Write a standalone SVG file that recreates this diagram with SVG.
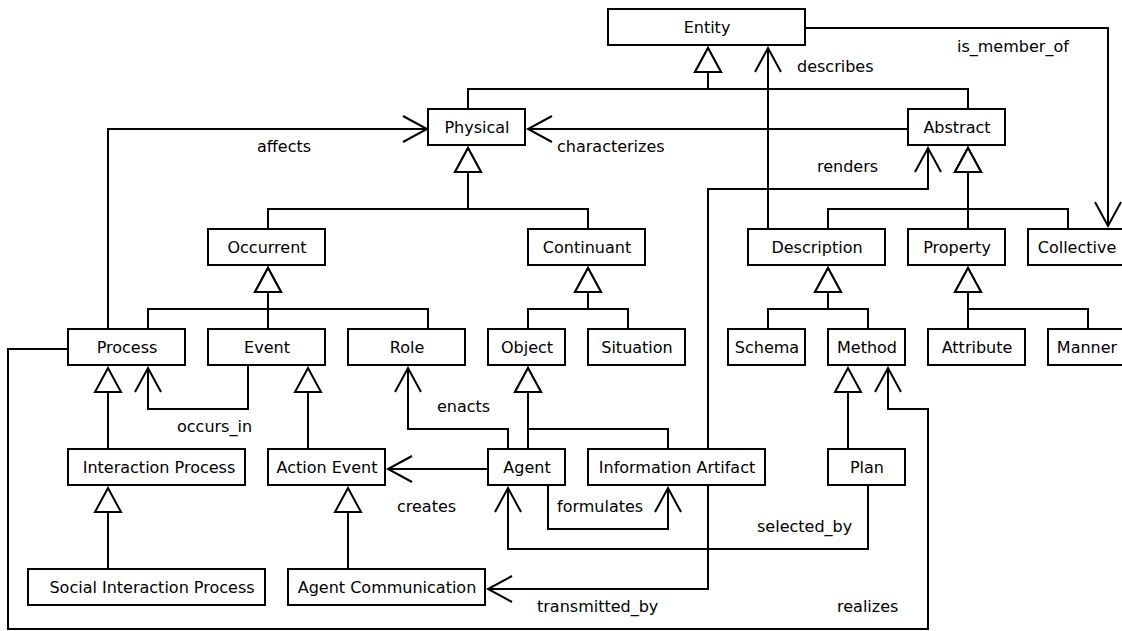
<svg xmlns="http://www.w3.org/2000/svg" width="1122" height="631" viewBox="0 0 1122 631">
<style>
.box rect{fill:#fff;stroke:#000;stroke-width:2}
text{font-family:"DejaVu Sans","Liberation Sans",sans-serif;font-size:16px;fill:#000}
.box text{text-anchor:middle}
.gen path,.assoc path{fill:none;stroke:#000;stroke-width:2}
.gen path{marker-end:url(#tri)}
.assoc path{marker-end:url(#open)}
</style>
<defs>
<marker id="tri" markerUnits="userSpaceOnUse" orient="auto" refX="0" refY="0" markerWidth="30" markerHeight="30" overflow="visible">
<path d="M0 0 L-24 -13 L-24 13 Z" fill="#fff" stroke="#000" stroke-width="2"/>
</marker>
<marker id="open" markerUnits="userSpaceOnUse" orient="auto" refX="0" refY="0" markerWidth="30" markerHeight="30" overflow="visible">
<path d="M-24 -13 L0 0 L-24 13" fill="none" stroke="#000" stroke-width="2"/>
</marker>
</defs>
<rect width="1122" height="631" fill="#fff"/>
<g id="connectors">
<g class="gen">
<path d="M468 109 V89 H708 V48"/>
<path d="M968 109 V89 H708 V48"/>
<path d="M268 229 V209 H468 V148"/>
<path d="M588 229 V209 H468 V148"/>
<path d="M828 229 V209 H968 V148"/>
<path d="M968 229 V148"/>
<path d="M1068 229 V209 H968 V148"/>
<path d="M148 329 V309 H268 V268"/>
<path d="M268 329 V268"/>
<path d="M428 329 V309 H268 V268"/>
<path d="M528 329 V309 H588 V268"/>
<path d="M628 329 V309 H588 V268"/>
<path d="M768 329 V309 H828 V268"/>
<path d="M868 329 V309 H828 V268"/>
<path d="M968 329 V268"/>
<path d="M1088 329 V309 H968 V268"/>
<path d="M108 449 V368"/>
<path d="M308 449 V368"/>
<path d="M528 449 V368"/>
<path d="M668 449 V429 H528 V368"/>
<path d="M848 449 V368"/>
<path d="M108 569 V488"/>
<path d="M348 569 V488"/>
</g>
<g class="assoc">
<path d="M108 329 V129 H427"/>
<path d="M908 129 H528"/>
<path d="M768 229 V48"/>
<path d="M805 28 H1108 V226"/>
<path d="M708 449 V189 H928 V148"/>
<path d="M248 365 V409 H148 V368"/>
<path d="M508 449 V429 H408 V368"/>
<path d="M488 469 H388"/>
<path d="M548 485 V529 H668 V488"/>
<path d="M868 485 V549 H508 V488"/>
<path d="M708 485 V589 H488"/>
<path d="M68 349 H8 V629 H928 V409 H888 V368"/>
</g>
<g id="labels">
<text x="257" y="152">affects</text>
<text x="557" y="152">characterizes</text>
<text x="797" y="72">describes</text>
<text x="957" y="52">is_member_of</text>
<text x="817" y="172">renders</text>
<text x="177" y="432">occurs_in</text>
<text x="437" y="412">enacts</text>
<text x="397" y="512">creates</text>
<text x="557" y="512">formulates</text>
<text x="757" y="532">selected_by</text>
<text x="537" y="612">transmitted_by</text>
<text x="837" y="612">realizes</text>
</g>
</g>
<g id="entity" class="box"><rect x="608" y="9" width="197" height="36"/><text x="707" y="33">Entity</text></g>
<g id="physical" class="box"><rect x="428" y="109" width="97" height="36"/><text x="477" y="133">Physical</text></g>
<g id="abstract" class="box"><rect x="908" y="109" width="97" height="36"/><text x="957" y="133">Abstract</text></g>
<g id="occurrent" class="box"><rect x="208" y="229" width="117" height="36"/><text x="267" y="253">Occurrent</text></g>
<g id="continuant" class="box"><rect x="528" y="229" width="117" height="36"/><text x="587" y="253">Continuant</text></g>
<g id="description" class="box"><rect x="748" y="229" width="137" height="36"/><text x="817" y="253">Description</text></g>
<g id="property" class="box"><rect x="908" y="229" width="97" height="36"/><text x="957" y="253">Property</text></g>
<g id="collective" class="box"><rect x="1028" y="229" width="97" height="36"/><text x="1077" y="253">Collective</text></g>
<g id="process" class="box"><rect x="68" y="329" width="117" height="36"/><text x="127" y="353">Process</text></g>
<g id="event" class="box"><rect x="208" y="329" width="117" height="36"/><text x="267" y="353">Event</text></g>
<g id="role" class="box"><rect x="348" y="329" width="117" height="36"/><text x="407" y="353">Role</text></g>
<g id="object" class="box"><rect x="488" y="329" width="77" height="36"/><text x="527" y="353">Object</text></g>
<g id="situation" class="box"><rect x="588" y="329" width="97" height="36"/><text x="637" y="353">Situation</text></g>
<g id="schema" class="box"><rect x="728" y="329" width="77" height="36"/><text x="767" y="353">Schema</text></g>
<g id="method" class="box"><rect x="828" y="329" width="77" height="36"/><text x="867" y="353">Method</text></g>
<g id="attribute" class="box"><rect x="928" y="329" width="97" height="36"/><text x="977" y="353">Attribute</text></g>
<g id="manner" class="box"><rect x="1048" y="329" width="77" height="36"/><text x="1087" y="353">Manner</text></g>
<g id="interaction-process" class="box"><rect x="68" y="449" width="177" height="36"/><text x="159" y="473">Interaction Process</text></g>
<g id="action-event" class="box"><rect x="268" y="449" width="117" height="36"/><text x="327" y="473">Action Event</text></g>
<g id="agent" class="box"><rect x="488" y="449" width="77" height="36"/><text x="527" y="473">Agent</text></g>
<g id="information-artifact" class="box"><rect x="588" y="449" width="177" height="36"/><text x="677" y="473">Information Artifact</text></g>
<g id="plan" class="box"><rect x="828" y="449" width="77" height="36"/><text x="867" y="473">Plan</text></g>
<g id="social-interaction-process" class="box"><rect x="28" y="569" width="237" height="36"/><text x="152" y="593">Social Interaction Process</text></g>
<g id="agent-communication" class="box"><rect x="288" y="569" width="197" height="36"/><text x="387" y="593">Agent Communication</text></g>
</svg>
